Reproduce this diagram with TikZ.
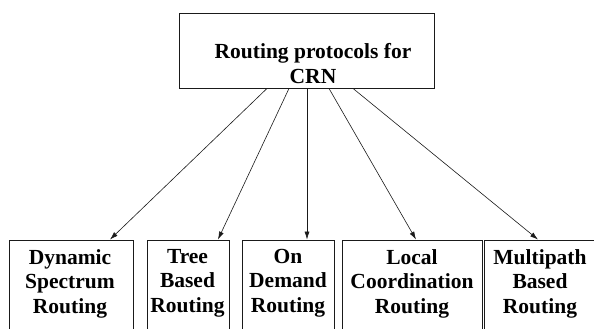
\documentclass[tikz,border=0pt]{standalone}
\usepackage{fontspec}
\setmainfont{Liberation Serif}[BoldFont={Liberation Serif Bold}]
\usetikzlibrary{arrows.meta,positioning,calc}
\definecolor{ink}{HTML}{1A1A1A}
\tikzset{
  rootbox/.style={
    draw=ink, line width=0.9pt, inner sep=0pt,
    minimum width=255pt, minimum height=75pt
  },
  catbox/.style={
    draw=ink, line width=0.9pt, inner sep=0pt,
    minimum height=105pt
  },
  boxtext/.style={
    font=\rmfamily\bfseries\fontsize{21.5}{24.5}\selectfont,
    align=center, inner sep=0pt, anchor=north
  },
  branch/.style={-{Latex[length=8pt,width=5pt]}, line width=0.6pt, draw=ink}
}

\begin{document}
\begin{tikzpicture}[x=1pt,y=-1pt]
  \useasboundingbox (0,0) rectangle (594,329);
  \clip (0,0) rectangle (594,329);
  % root box
  \node[rootbox] (root) at (306.5,50.5) {};
  \node[boxtext] (roottext) at (313,43.5) {Routing protocols for\\CRN};
  % category boxes, cut off at the bottom
  \node[catbox,minimum width=124pt] (dsr) at (71,292.5) {};
  \node[catbox,minimum width=82pt] (tbr) at (188,292.5) {};
  \node[catbox,minimum width=92pt] (odr) at (288,292.5) {};
  \node[catbox,minimum width=140pt] (lcr) at (412,292.5) {};
  \node[catbox,minimum width=120pt] (mbr) at (544,292.5) {};
  \node[boxtext] (dsrtext) at (70,249) {Dynamic\\Spectrum\\Routing};
  \node[boxtext] (tbrtext) at (187.5,249) {Tree\\Based\\Routing};
  \node[boxtext] (odrtext) at (288,249) {On\\Demand\\Routing};
  \node[boxtext] (lcrtext) at (412,249) {Local\\Coordination\\Routing};
  \node[boxtext] (mbrtext) at (540,249) {Multipath\\Based\\Routing};
  % branches
  \draw[branch] ([xshift=-39.5pt]root.south) -- ([xshift=39pt]dsr.north);
  \draw[branch] ([xshift=-17.5pt]root.south) -- ([xshift=30pt]tbr.north);
  \draw[branch] ([xshift=0.5pt]root.south) -- ([xshift=19pt]odr.north);
  \draw[branch] ([xshift=22.5pt]root.south) -- ([xshift=4pt]lcr.north);
  \draw[branch] ([xshift=46.5pt]root.south) -- ([xshift=-6pt]mbr.north);
\end{tikzpicture}
\end{document}
